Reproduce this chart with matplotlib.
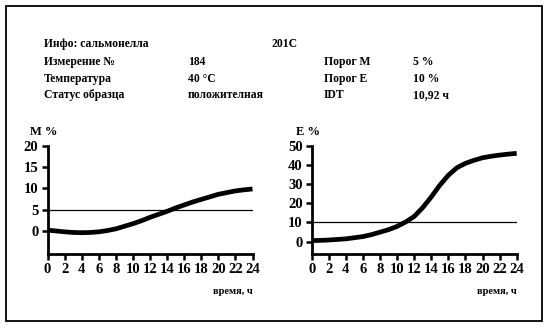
import numpy as np
import matplotlib
matplotlib.use("Agg")
from matplotlib import pyplot as plt
from matplotlib.patches import Rectangle

plt.rcParams['font.family'] = ['Liberation Serif', 'DejaVu Serif']
plt.rcParams['font.weight'] = 'bold'

# header table
info_left = ["Инфо: сальмонелла", "Измерение №", "Температура", "Статус образца"]
info_mid = ["201C", "184", "40 °C", "положителная"]
info_right_lbl = ["", "Порог M", "Порог E", "IDT"]
info_right_val = ["", "5 %", "10 %", "10,92 ч"]

# curves
t_m = list(range(0, 25))
m_val = [0.2, 0.0, -0.2, -0.35, -0.4, -0.35, -0.2, 0.1, 0.5, 1.1, 1.7, 2.4, 3.2,
         3.9, 4.6, 5.4, 6.1, 6.8, 7.4, 8.0, 8.6, 9.0, 9.4, 9.65, 9.85]
m_thr = 5

t_e = list(range(0, 25))
e_val = [0.5, 0.6, 0.8, 1.1, 1.4, 2.0, 2.6, 3.6, 4.9, 6.2, 7.9, 10.2, 13.1, 17.7,
         23.3, 29.4, 34.6, 38.5, 40.8, 42.4, 43.7, 44.5, 45.1, 45.6, 46.0]
e_thr = 10

x_ticks = list(range(0, 25, 2))

W, H = 549, 331
fig = plt.figure(figsize=(W / 100, H / 100), dpi=100)
fig.patches.append(Rectangle((6 / W, 1 - 321 / H), 536 / W, 315 / H,
                             transform=fig.transFigure, fill=False,
                             lw=1.3, ec='black'))

rows_y = [44, 62, 79, 95]
for i, y in enumerate(rows_y):
    fy = 1 - y / H
    fig.text(44 / W, fy, info_left[i], fontsize=8.4, va='center')
    fx = 272 / W if i == 0 else 188 / W
    fig.text(fx, fy, info_mid[i], fontsize=8.4, va='center')
    fig.text(324 / W, fy, info_right_lbl[i], fontsize=8.4, va='center')
    fig.text(413 / W, fy, info_right_val[i], fontsize=8.4, va='center')


def draw(ax, t, v, thr, ymin, ymax, yticks, ylabel):
    ax.plot(t, v, color='black', lw=3.4, solid_capstyle='butt',
            solid_joinstyle='round')
    ax.axhline(thr, color='black', lw=0.9)
    ax.set_xlim(0, 24)
    ax.set_ylim(ymin, ymax)
    ax.set_xticks(x_ticks)
    ax.set_yticks(yticks)
    for s in ['top', 'right']:
        ax.spines[s].set_visible(False)
    for s in ['left', 'bottom']:
        ax.spines[s].set_linewidth(2.0)
    ax.tick_params(axis='both', direction='out', length=4.5, width=1.8,
                   labelsize=10.5, pad=2)
    for lab in ax.get_xticklabels() + ax.get_yticklabels():
        lab.set_fontweight('bold')
    ax.text(-0.02, 1.075, ylabel, transform=ax.transAxes, fontsize=9,
            ha='center', va='bottom')
    ax.text(1.0, -0.345, "время, ч", transform=ax.transAxes, fontsize=7.5,
            ha='right', va='center')


ax1 = fig.add_axes([47.5 / W, 1 - 254 / H, 205 / W, 108.3 / H])
draw(ax1, t_m, m_val, m_thr, -5.4, 20, [0, 5, 10, 15, 20], "M %")

ax2 = fig.add_axes([311.7 / W, 1 - 254 / H, 205 / W, 108.3 / H])
draw(ax2, t_e, e_val, e_thr, -6.5, 50, [0, 10, 20, 30, 40, 50], "E %")

fig.savefig("out.png", dpi=100)
